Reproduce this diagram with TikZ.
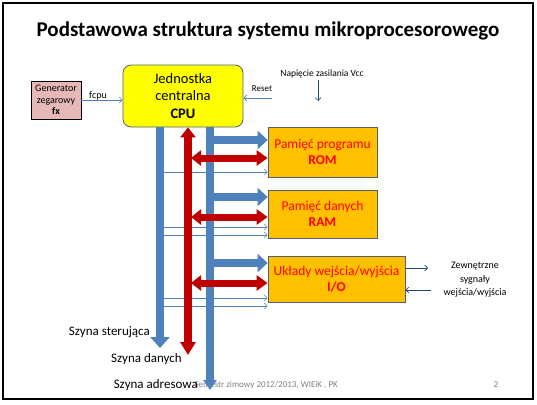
\documentclass[tikz,border=0pt]{standalone}
\usepackage{fontspec}
\setmainfont{Carlito}
\usetikzlibrary{arrows.meta}
\definecolor{busblue}{RGB}{79,129,189}
\definecolor{busred}{RGB}{192,0,0}
\definecolor{cpuyellow}{RGB}{255,255,0}
\definecolor{memorange}{RGB}{255,192,0}
\definecolor{genpink}{RGB}{230,185,184}
\definecolor{boxedge}{RGB}{85,95,115}
\definecolor{sigblue}{RGB}{31,73,125}
\begin{document}
\begin{tikzpicture}[x=1pt,y=-1pt,
 unit/.style={draw=boxedge,thick,fill=memorange,text=red,align=center,inner sep=0pt,
  font=\fontsize{13.5}{16.5}\selectfont,minimum width=109pt,minimum height=50pt},
 thinarrow/.style={busblue,line width=0.6pt,-{Straight Barb[length=3pt,width=6pt]}},
 sigarrow/.style={sigblue,line width=0.6pt,-{Straight Barb[length=3pt,width=6pt]}},
 bus/.style={busblue,line width=8pt,-{Triangle[width=19pt,length=11pt]}},
 branch/.style={busblue,line width=8pt,-{Triangle[width=18pt,length=10pt]}},
 databus/.style={busred,line width=8pt,{Triangle[width=15pt,length=10pt]}-{Triangle[width=15pt,length=13pt]}},
 dataarrow/.style={busred,line width=7pt,{Triangle[width=15pt,length=10pt]}-{Triangle[width=15pt,length=11pt]}},
 lbl/.style={font=\fontsize{13}{15}\selectfont,inner sep=0pt}]
 \useasboundingbox (0,0) rectangle (537,404);
 \draw[line width=1.8pt] (3,3) rectangle (533,399);
 \node[anchor=base,inner sep=0pt,font=\fontsize{21}{24}\selectfont\bfseries] (title) at (268,37)
  {Podstawowa struktura systemu mikroprocesorowego};
 \node[anchor=base east,inner sep=0pt,gray,font=\fontsize{9}{11}\selectfont] (foot) at (338,387)
  {Semestr zimowy 2012/2013, WIEiK , PK};
 \node[anchor=base,inner sep=0pt,gray,font=\fontsize{9}{11}\selectfont] (page) at (496,387) {2};

 \node[draw=boxedge,thick,fill=cpuyellow,rounded corners=8pt,align=center,inner sep=0pt,
  minimum width=120pt,minimum height=62pt,font=\fontsize{14.5}{17.5}\selectfont] (cpu) at (183,96)
  {Jednostka\\centralna\\\textbf{CPU}};
 \node[draw=black,thick,fill=genpink,align=center,inner sep=0pt,minimum width=50pt,
  minimum height=38pt,font=\fontsize{10}{11.5}\selectfont] (gen) at (56,100)
  {Generator\\zegarowy\\\textbf{fx}};
 \node[unit] (rom) at (322.5,152) {Pamięć programu\\\textbf{ROM}};
 \node[unit,minimum height=48pt] (ram) at (322.5,214) {Pamięć danych\\\textbf{RAM}};
 \node[unit,minimum width=137pt,minimum height=46pt] (io) at (336.5,279)
  {Układy wejścia/wyjścia\\\textbf{I/O}};

 \coordinate (ctrlend) at (160,348);
 \coordinate (dataend) at (188,355);
 \coordinate (addrend) at (210,390);
 \coordinate (rst) at (272,98);
 \coordinate (vccend) at (318,101);
 \coordinate (extout) at (428,268);
 \coordinate (extin) at (431,290);

 \draw[thinarrow] (gen.east) -- (cpu.west |- gen.east);
 \node[font=\fontsize{10}{12}\selectfont,inner sep=1pt,anchor=base] (fcpu) at (98,98) {fcpu};
 \draw[thinarrow] (rst) -- (cpu.east |- rst);
 \node[font=\fontsize{9}{11}\selectfont,inner sep=1pt,anchor=base] (reset) at (262,91) {Reset};
 \node[font=\fontsize{9.5}{11}\selectfont,inner sep=2pt,anchor=base] (vcc) at (322,76) {Napięcie zasilania Vcc};
 \draw[sigblue,line width=0.6pt,-{Straight Barb[length=3pt,width=6pt]}] (vcc.south -| vccend) -- (vccend);

 \draw[thinarrow] ([yshift=-20pt]rom.west -| ctrlend) -- ([yshift=-20pt]rom.west);
 \draw[thinarrow] ([yshift=-13pt]ram.west -| ctrlend) -- ([yshift=-13pt]ram.west);
 \draw[thinarrow] ([yshift=-21pt]ram.west -| ctrlend) -- ([yshift=-21pt]ram.west);
 \draw[thinarrow] ([yshift=-19pt]io.west -| ctrlend) -- ([yshift=-19pt]io.west);
 \draw[thinarrow] ([yshift=-27pt]io.west -| ctrlend) -- ([yshift=-27pt]io.west);

 \node[lbl,anchor=base east] (ctrllbl) at (150,335) {Szyna sterująca};
 \node[lbl,anchor=base east] (datalbl) at (182,362) {Szyna danych};
 \node[lbl,anchor=base east] (addrlbl) at (198,388) {Szyna adresowa};

 \draw[bus] (cpu.south -| ctrlend) -- (ctrlend);
 \draw[bus,-{Triangle[width=13pt,length=10pt]}] (cpu.south -| addrend) -- (addrend);
 \draw[branch] ([yshift=12pt]rom.west -| addrend) -- ([yshift=12pt]rom.west);
 \draw[branch] ([yshift=17pt]ram.west -| addrend) -- ([yshift=17pt]ram.west);
 \draw[branch] ([yshift=16pt]io.west -| addrend) -- ([yshift=16pt]io.west);
 \draw[databus] (cpu.south -| dataend) -- (dataend);
 \draw[dataarrow] ([yshift=-6pt,xshift=3pt]rom.west -| dataend) -- ([yshift=-6pt]rom.west);
 \draw[dataarrow] ([yshift=-3pt,xshift=3pt]ram.west -| dataend) -- ([yshift=-3pt]ram.west);
 \draw[dataarrow] ([yshift=-4pt,xshift=3pt]io.west -| dataend) -- ([yshift=-4pt]io.west);

 \draw[sigarrow] ([yshift=11pt]io.east) -- (extout);
 \draw[sigarrow] (extin) -- ([yshift=-11pt]io.east);
 \node[align=center,inner sep=0pt,font=\fontsize{10}{13.5}\selectfont] (ext) at (475,280)
  {Zewnętrzne\\sygnały\\wejścia/wyjścia};
\end{tikzpicture}
\end{document}
